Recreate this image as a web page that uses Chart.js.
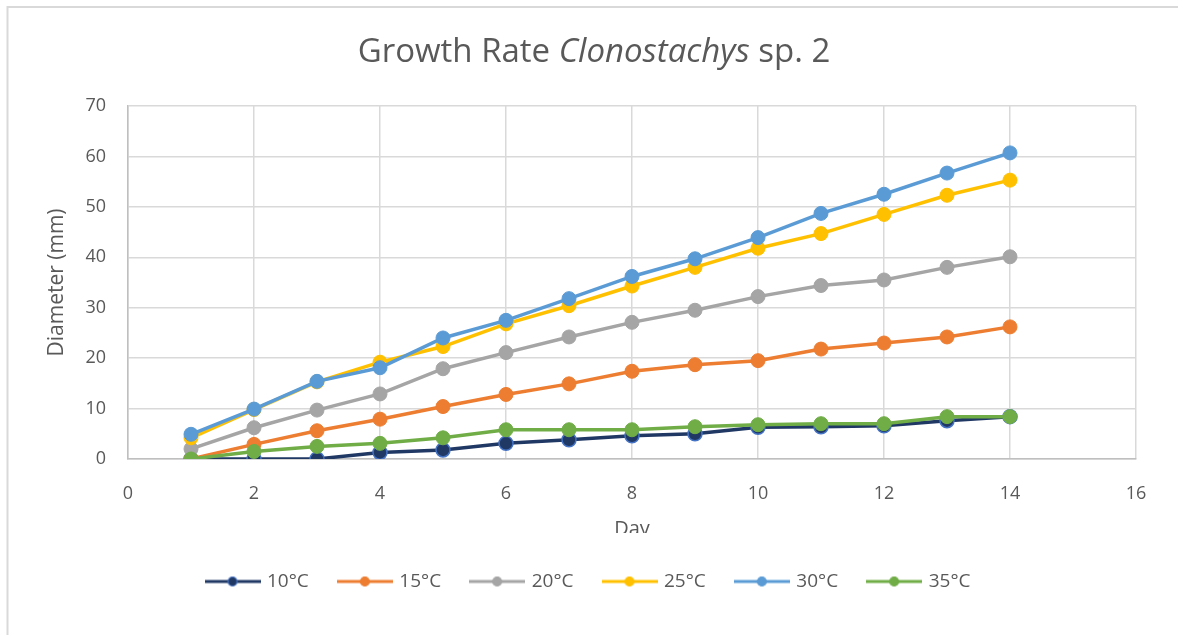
<!DOCTYPE html>
<html>
<head>
<meta charset="utf-8">
<script src="https://cdn.jsdelivr.net/npm/chart.js@4/dist/chart.umd.min.js"></script>
<style>
  html, body { margin: 0; padding: 0; background: #ffffff; }
  #wrap { width: 1178px; height: 635px; }
</style>
</head>
<body>
<div id="wrap"><canvas id="growth" width="1178" height="635"></canvas></div>
<script>
// Colony diameter (mm) per day for each incubation temperature
const days = [1, 2, 3, 4, 5, 6, 7, 8, 9, 10, 11, 12, 13, 14];
const temp10 = [0, 0, 0, 1.3, 1.8, 3.1, 3.8, 4.6, 5.0, 6.3, 6.4, 6.6, 7.6, 8.4];
const temp15 = [0, 2.9, 5.6, 7.9, 10.4, 12.8, 14.9, 17.4, 18.7, 19.5, 21.8, 23.0, 24.2, 26.2];
const temp20 = [2.0, 6.2, 9.7, 12.9, 17.9, 21.1, 24.2, 27.1, 29.5, 32.2, 34.4, 35.5, 38.0, 40.1];
const temp25 = [4.2, 9.8, 15.3, 19.2, 22.3, 26.8, 30.4, 34.3, 38.0, 41.8, 44.7, 48.5, 52.3, 55.3];
const temp30 = [4.9, 9.9, 15.4, 18.1, 24.0, 27.5, 31.8, 36.2, 39.7, 43.9, 48.7, 52.5, 56.7, 60.7];
const temp35 = [0, 1.5, 2.5, 3.1, 4.2, 5.8, 5.8, 5.8, 6.4, 6.8, 7.0, 7.0, 8.4, 8.4];

const seriesLabels = ['10°C', '15°C', '20°C', '25°C', '30°C', '35°C'];
const seriesValues = [temp10, temp15, temp20, temp25, temp30, temp35];
const lineColors = ['#203864', '#ed7d31', '#a5a5a5', '#ffc000', '#5b9bd5', '#70ad47'];
const markerEdges = ['#4472c4', '#ed7d31', '#a5a5a5', '#ffc000', '#5b9bd5', '#70ad47'];

const FONT = '"Open Sans", "Noto Sans", sans-serif';
const TEXT = '#595959';
const GRID = '#d9d9d9';
const AXIS = '#bfbfbf';

// Legend swatch: short line with a marker in the middle
function legendSwatch(line, fill, edge) {
  const c = document.createElement('canvas');
  c.width = 56; c.height = 14;
  const g = c.getContext('2d');
  g.strokeStyle = line; g.lineWidth = 3;
  g.beginPath(); g.moveTo(0, 7); g.lineTo(56, 7); g.stroke();
  g.fillStyle = fill; g.strokeStyle = edge; g.lineWidth = 1.2;
  g.beginPath(); g.arc(28, 7, 4.5, 0, Math.PI * 2); g.fill(); g.stroke();
  return c;
}
const swatches = lineColors.map((c, i) => legendSwatch(c, c, markerEdges[i]));

const datasets = seriesLabels.map((label, i) => ({
  label,
  data: days.map((d, k) => ({ x: d, y: seriesValues[i][k] })),
  borderColor: lineColors[i],
  backgroundColor: lineColors[i],
  pointBackgroundColor: lineColors[i],
  pointBorderColor: markerEdges[i],
  pointBorderWidth: i === 0 ? 1.5 : 1,
  pointRadius: 7,
  borderWidth: 3.5,
  tension: 0,
  // later series sit on top of earlier ones
  order: seriesLabels.length - i
}));

// Frame, title with italic genus name, and x-axis caption
const decor = {
  id: 'decor',
  beforeDraw(chart) {
    const ctx = chart.ctx;
    ctx.save();
    ctx.strokeStyle = '#d9d9d9';
    ctx.lineWidth = 2;
    ctx.beginPath();
    ctx.moveTo(1178, 7); ctx.lineTo(7.5, 7); ctx.lineTo(7.5, 635);
    ctx.stroke();
    ctx.restore();
  },
  afterDraw(chart) {
    const ctx = chart.ctx;
    ctx.save();
    const size = 33;
    const parts = [
      { t: 'Growth Rate ', f: size + 'px ' + FONT },
      { t: 'Clonostachys', f: 'italic ' + size + 'px ' + FONT },
      { t: ' sp. 2', f: size + 'px ' + FONT }
    ];
    let total = 0;
    parts.forEach(p => { ctx.font = p.f; p.w = ctx.measureText(p.t).width; total += p.w; });
    let x = 594 - total / 2;
    ctx.fillStyle = TEXT;
    ctx.textBaseline = 'middle';
    ctx.textAlign = 'left';
    parts.forEach(p => { ctx.font = p.f; ctx.fillText(p.t, x, 53); x += p.w; });

    const xs = chart.scales.x;
    ctx.beginPath();
    ctx.rect(0, 500, 1178, 33);
    ctx.clip();
    ctx.font = '20px ' + FONT;
    ctx.textAlign = 'center';
    ctx.fillText('Day', (xs.left + xs.right) / 2, 529);
    ctx.restore();
  }
};

new Chart(document.getElementById('growth'), {
  type: 'line',
  data: { datasets },
  plugins: [decor],
  options: {
    responsive: false,
    animation: false,
    layout: { padding: { top: 106, left: 42, right: 42, bottom: 34 } },
    plugins: {
      title: { display: false },
      tooltip: { enabled: false },
      legend: {
        position: 'bottom',
        labels: {
          usePointStyle: true,
          pointStyleWidth: 50,
          padding: 31,
          color: TEXT,
          font: { family: FONT, size: 19 },
          generateLabels(chart) {
            const items = Chart.defaults.plugins.legend.labels.generateLabels(chart);
            items.sort((a, b) => a.datasetIndex - b.datasetIndex);
            items.forEach(it => { it.pointStyle = swatches[it.datasetIndex]; });
            return items;
          }
        }
      }
    },
    scales: {
      x: {
        type: 'linear',
        min: 0, max: 16,
        ticks: { stepSize: 2, padding: 24, color: TEXT, font: { family: FONT, size: 18 } },
        grid: { color: GRID, lineWidth: 1.5, drawTicks: false },
        border: { color: AXIS, width: 1.5 },
        afterFit(s) { s.height = 82; }
      },
      y: {
        min: 0, max: 70,
        ticks: { stepSize: 10, padding: 22, color: TEXT, font: { family: FONT, size: 18 } },
        grid: { color: GRID, lineWidth: 1.5, drawTicks: false },
        border: { color: AXIS, width: 1.5 },
        title: { display: true, text: 'Diameter (mm)', color: TEXT, font: { family: FONT, size: 21 }, padding: { top: 2, bottom: 4 } },
        afterFit(s) { s.width = 86; }
      }
    }
  }
});
</script>
</body>
</html>
